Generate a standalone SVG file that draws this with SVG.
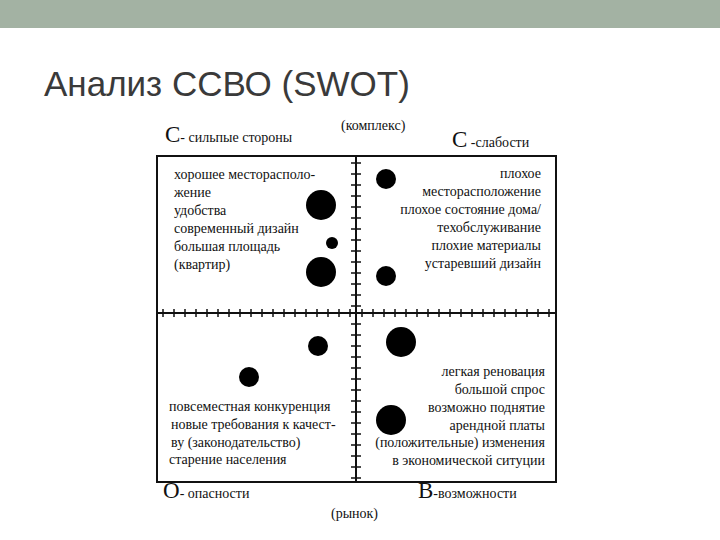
<svg xmlns="http://www.w3.org/2000/svg" width="720" height="540" viewBox="0 0 720 540">
<style>
.t{font-family:"Liberation Serif","DejaVu Serif",serif;font-size:14px;fill:#111}
.tr{font-family:"Liberation Serif","DejaVu Serif",serif;font-size:14px;fill:#111;text-anchor:end}
.big{font-family:"Liberation Serif","DejaVu Serif",serif;font-size:23px;fill:#111}
.ax{stroke:#111;stroke-width:2;fill:none}
.tk{stroke:#111;stroke-width:1.5}
.d{fill:#000}
</style>
<rect width="720" height="540" fill="#fff"/>
<rect width="720" height="28" fill="#a3b2a3"/>
<text x="44" y="96" font-family="Liberation Sans,sans-serif" font-size="35" fill="#3a3a3a">Анализ ССВО (SWOT)</text>
<g id="labels">
<text x="165" y="142" class="big">C<tspan class="t" font-size="16">- сильпые стороны</tspan></text>
<text x="341" y="130" class="t" font-size="15">(комплекс)</text>
<text x="452" y="147" class="big">C<tspan class="t" font-size="15"> -слабости</tspan></text>
<text x="163" y="498" class="big">O<tspan class="t" font-size="16">- опасности</tspan></text>
<text x="418" y="498" class="big">B<tspan class="t" font-size="14">-возможности</tspan></text>
<text x="331" y="518" class="t">(рынок)</text>
</g>
<g id="frame">
<rect x="157" y="156" width="399" height="326" class="ax"/>
<line x1="356" y1="156" x2="356" y2="482" class="ax"/>
<line x1="157" y1="313" x2="556" y2="313" class="ax"/>
<path class="tk" d="M163 309v8M174 309v8M185 309v8M196 309v8M207 309v8M218 309v8M229 309v8M240 309v8M251 309v8M262 309v8M273 309v8M284 309v8M295 309v8M306 309v8M317 309v8M328 309v8M339 309v8M350 309v8M362 309v8M373 309v8M384 309v8M395 309v8M406 309v8M417 309v8M428 309v8M439 309v8M450 309v8M461 309v8M472 309v8M483 309v8M494 309v8M505 309v8M516 309v8M527 309v8M538 309v8M549 309v8"/>
<path class="tk" d="M351 163h10M351 174h10M351 185h10M351 196h10M351 207h10M351 218h10M351 229h10M351 240h10M351 251h10M351 262h10M351 273h10M351 284h10M351 295h10M351 306h10M351 324h10M351 335h10M351 346h10M351 357h10M351 368h10M351 379h10M351 390h10M351 401h10M351 412h10M351 423h10M351 434h10M351 445h10M351 456h10M351 467h10M351 478h10"/>
</g>
<g id="dots">
<circle cx="321" cy="205" r="15" class="d"/>
<circle cx="332" cy="243" r="6" class="d"/>
<circle cx="321" cy="272" r="15" class="d"/>
<circle cx="386" cy="179" r="10" class="d"/>
<circle cx="386" cy="276" r="10" class="d"/>
<circle cx="318" cy="346" r="10" class="d"/>
<circle cx="249" cy="377" r="10" class="d"/>
<circle cx="401" cy="342" r="15" class="d"/>
<circle cx="391" cy="420" r="15" class="d"/>
</g>
<g id="strengths">
<text x="174" y="179" class="t">хорошее месторасполо-</text>
<text x="174" y="197" class="t">жение</text>
<text x="174" y="215" class="t">удобства</text>
<text x="174" y="233" class="t">современный  дизайн</text>
<text x="174" y="251" class="t">большая площадь</text>
<text x="174" y="269" class="t">(квартир)</text>
</g>
<g id="weaknesses">
<text x="541" y="178" class="tr">плохое</text>
<text x="541" y="196" class="tr">месторасположение</text>
<text x="541" y="214" class="tr">плохое состояние дома/</text>
<text x="541" y="232" class="tr">техобслуживание</text>
<text x="541" y="250" class="tr">плохие материалы</text>
<text x="541" y="268" class="tr">устаревший дизайн</text>
</g>
<g id="threats">
<text x="169" y="411" class="t">повсеместная конкуренция</text>
<text x="171" y="429" class="t">новые требования к качест-</text>
<text x="171" y="447" class="t">ву  (законодательство)</text>
<text x="169" y="464" class="t">старение населения</text>
</g>
<g id="opportunities">
<text x="545" y="376" class="tr">легкая реновация</text>
<text x="545" y="394" class="tr">большой спрос</text>
<text x="545" y="412" class="tr">возможно поднятие</text>
<text x="545" y="430" class="tr">арендной платы</text>
<text x="545" y="447" class="tr">(положительные) изменения</text>
<text x="545" y="465" class="tr">в экономической ситуции</text>
</g>
</svg>
